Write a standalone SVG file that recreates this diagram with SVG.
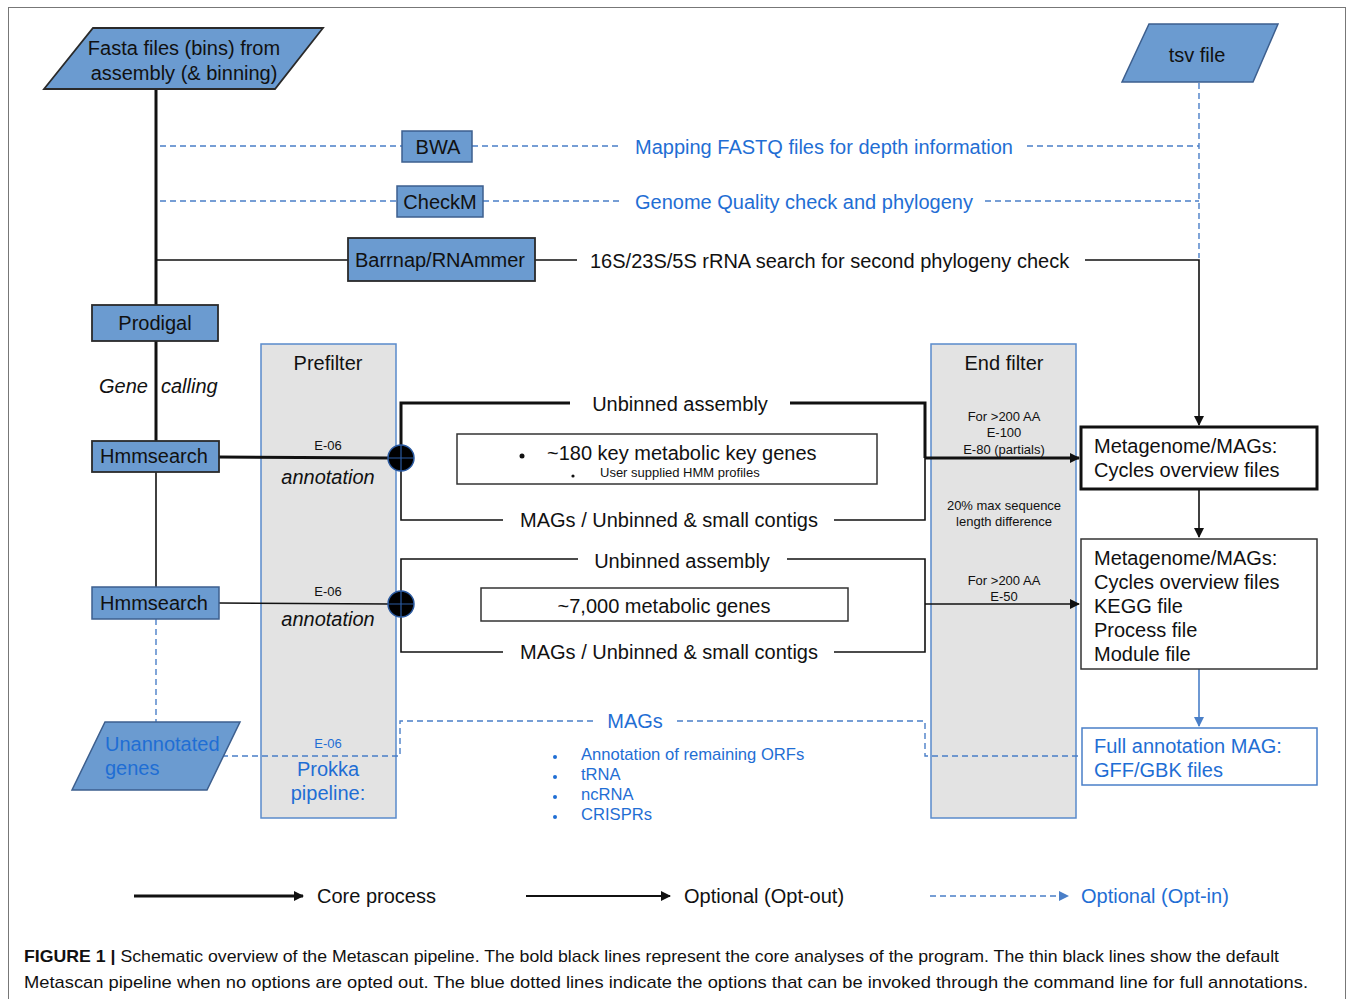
<svg xmlns="http://www.w3.org/2000/svg" width="1354" height="999" viewBox="0 0 1354 999">
<defs>
<style>
text{font-family:"Liberation Sans",Arial,sans-serif;fill:#111}
.t20{font-size:20px}
.t16{font-size:16.6px}
.t13{font-size:13px}
.mid{text-anchor:middle}
.it{font-style:italic}
.blue{fill:#1f6ed4}
.node{fill:#6b9bd0;stroke:#3d5f8e;stroke-width:1.5}
.nodek{fill:#6b9bd0;stroke:#2a2a2a;stroke-width:1.8}
.filt{fill:#e3e3e3;stroke:#5a8bcb;stroke-width:1.5}
.box{fill:#fff;stroke:#333;stroke-width:1.5}
.core{fill:none;stroke:#111;stroke-width:3}
.thin{fill:none;stroke:#111;stroke-width:1.6}
.dash{fill:none;stroke:#4a7fc8;stroke-width:1.4;stroke-dasharray:6 4}
</style>
<marker id="ak" markerWidth="10" markerHeight="10" refX="9" refY="5" orient="auto" markerUnits="userSpaceOnUse"><path d="M0,0 L10,5 L0,10 z" fill="#111"/></marker>
<marker id="ab" markerWidth="10" markerHeight="10" refX="9" refY="5" orient="auto" markerUnits="userSpaceOnUse"><path d="M0,0 L10,5 L0,10 z" fill="#4a7fc8"/></marker>
</defs>
<rect x="0" y="0" width="1354" height="999" fill="#fff"/>
<rect x="8.5" y="7.5" width="1337" height="1000" fill="none" stroke="#777" stroke-width="1"/>

<g id="filters">
<g id="prefilter">
<rect class="filt" x="261" y="344" width="135" height="474"/>
<text class="t20 mid" x="328" y="370">Prefilter</text>
<text class="t13 mid" x="328" y="450">E-06</text>
<text class="t20 mid it" x="328" y="484">annotation</text>
<text class="t13 mid" x="328" y="596">E-06</text>
<text class="t20 mid it" x="328" y="626">annotation</text>
<text class="t13 mid blue" x="328" y="748">E-06</text>
<text class="t20 mid blue" x="328" y="776">Prokka</text>
<text class="t20 mid blue" x="328" y="800">pipeline:</text>
</g>
<g id="endfilter">
<rect class="filt" x="931" y="344" width="145" height="474"/>
<text class="t20 mid" x="1004" y="370">End filter</text>
<text class="t13 mid" x="1004" y="421">For &gt;200 AA</text>
<text class="t13 mid" x="1004" y="437">E-100</text>
<text class="t13 mid" x="1004" y="454">E-80 (partials)</text>
<text class="t13 mid" x="1004" y="510">20% max sequence</text>
<text class="t13 mid" x="1004" y="526">length difference</text>
<text class="t13 mid" x="1004" y="585">For &gt;200 AA</text>
<text class="t13 mid" x="1004" y="601">E-50</text>
</g>
</g>

<g id="connectors">
<path class="core" d="M156,89 V305"/>
<path class="core" d="M156,341 V441"/>
<path class="thin" d="M156,472 V587"/>
<path class="dash" d="M156,619 V722"/>
<path class="dash" d="M160,146 H402 M472,146 H622 M1027,146 H1199"/>
<path class="dash" d="M160,201 H397 M483,201 H622 M985,201 H1199"/>
<path class="dash" d="M1199,83 V258"/>
<path class="thin" d="M156,260 H348 M535,260 H577"/>
<path class="thin" d="M1085,260 H1199 V425" marker-end="url(#ak)"/>
<path class="core" d="M219,457 L390,458"/>
<path class="core" d="M401,458 V403 H570 M790,403 H925 V458"/>
<path class="thin" d="M401,458 V520 H503 M834,520 H925 V458"/>
<path class="core" d="M925,458 H1079" marker-end="url(#ak)"/>
<path class="thin" d="M219,603 L390,604"/>
<path class="thin" d="M401,604 V559 H578 M787,559 H925 V652 H834 M503,652 H401 V604"/>
<path class="thin" d="M925,604 H1079" marker-end="url(#ak)"/>
<path class="thin" d="M1199,489 V537" marker-end="url(#ak)"/>
<path d="M1199,669 V726" fill="none" stroke="#4a7fc8" stroke-width="1.6" marker-end="url(#ab)"/>
<path class="dash" d="M222,756 H400 V721 H597 M677,721 H925 V756 H1081"/>
<g stroke="#2b5aa0">
<circle cx="401" cy="458" r="13" fill="#000" stroke-width="1.5"/>
<path d="M388,458 H414 M401,445 V471" stroke-width="1.2"/>
<circle cx="401" cy="604" r="13" fill="#000" stroke-width="1.5"/>
<path d="M388,604 H414 M401,591 V617" stroke-width="1.2"/>
</g>
</g>

<g id="fasta">
<polygon class="nodek" points="93,28 323,28 275,89 44,89"/>
<text class="t20 mid" x="184" y="55">Fasta files (bins) from</text>
<text class="t20 mid" x="184" y="80">assembly (&amp; binning)</text>
</g>
<g id="tsv">
<polygon class="node" points="1149,24 1278,24 1253,82 1122,82"/>
<text class="t20 mid" x="1197" y="62">tsv file</text>
</g>
<g id="bwa">
<rect class="node" x="402" y="131" width="70" height="31"/>
<text class="t20 mid" x="438" y="154">BWA</text>
<text class="t20 blue" x="635" y="154">Mapping FASTQ files for depth information</text>
</g>
<g id="checkm">
<rect class="node" x="397" y="186" width="86" height="31"/>
<text class="t20 mid" x="440" y="209">CheckM</text>
<text class="t20 blue" x="635" y="209">Genome Quality check and phylogeny</text>
</g>
<g id="barrnap">
<rect class="nodek" x="348" y="238" width="187" height="43"/>
<text class="t20 mid" x="440" y="267">Barrnap/RNAmmer</text>
<text class="t20" x="590" y="268">16S/23S/5S rRNA search for second phylogeny check</text>
</g>
<g id="prodigal">
<rect class="nodek" x="92" y="305" width="126" height="36"/>
<text class="t20 mid" x="155" y="330">Prodigal</text>
<text class="t20 it" x="148" y="393" text-anchor="end">Gene</text>
<text class="t20 it" x="161" y="393">calling</text>
</g>
<g id="hmmsearch1">
<rect class="nodek" x="92" y="441" width="127" height="31"/>
<text class="t20 mid" x="154" y="463">Hmmsearch</text>
</g>
<g id="hmmsearch2">
<rect class="node" x="92" y="587" width="127" height="32"/>
<text class="t20 mid" x="154" y="610">Hmmsearch</text>
</g>
<g id="unannotated">
<polygon class="node" points="105,722 240,722 207,790 72,790"/>
<text class="t20 blue" x="105" y="751">Unannotated</text>
<text class="t20 blue" x="105" y="775">genes</text>
</g>
<g id="block1">
<text class="t20 mid" x="680" y="411">Unbinned assembly</text>
<rect class="box" x="457" y="434" width="420" height="50"/>
<circle cx="522" cy="456" r="2.5" fill="#111"/>
<text class="t20" x="547" y="460">~180 key metabolic key genes</text>
<circle cx="573" cy="476" r="1.6" fill="#111"/>
<text class="t13" x="600" y="477">User supplied HMM profiles</text>
<text class="t20 mid" x="669" y="527">MAGs / Unbinned &amp; small contigs</text>
</g>
<g id="block2">
<text class="t20 mid" x="682" y="568">Unbinned assembly</text>
<rect class="box" x="481" y="588" width="367" height="33"/>
<text class="t20 mid" x="664" y="613">~7,000 metabolic genes</text>
<text class="t20 mid" x="669" y="659">MAGs / Unbinned &amp; small contigs</text>
</g>
<g id="prokka-out">
<text class="t20 mid blue" x="635" y="728">MAGs</text>
<g fill="#1f6ed4">
<circle cx="555" cy="757" r="2"/><circle cx="555" cy="777" r="2"/><circle cx="555" cy="797" r="2"/><circle cx="555" cy="817" r="2"/>
</g>
<text class="t16 blue" x="581" y="760">Annotation of remaining ORFs</text>
<text class="t16 blue" x="581" y="780">tRNA</text>
<text class="t16 blue" x="581" y="800">ncRNA</text>
<text class="t16 blue" x="581" y="820">CRISPRs</text>
</g>
<g id="cycles">
<rect x="1081" y="427" width="236" height="62" fill="#fff" stroke="#111" stroke-width="3"/>
<text class="t20" x="1094" y="453">Metagenome/MAGs:</text>
<text class="t20" x="1094" y="477">Cycles overview files</text>
</g>
<g id="outputs">
<rect class="box" x="1081" y="539" width="236" height="130"/>
<text class="t20" x="1094" y="565">Metagenome/MAGs:</text>
<text class="t20" x="1094" y="589">Cycles overview files</text>
<text class="t20" x="1094" y="613">KEGG file</text>
<text class="t20" x="1094" y="637">Process file</text>
<text class="t20" x="1094" y="661">Module file</text>
</g>
<g id="fullannot">
<rect x="1082" y="728" width="235" height="57" fill="#fff" stroke="#4a7fc8" stroke-width="1.5"/>
<text class="t20 blue" x="1094" y="753">Full annotation MAG:</text>
<text class="t20 blue" x="1094" y="777">GFF/GBK files</text>
</g>
<g id="legend">
<path d="M134,896 H303" stroke="#111" stroke-width="3" marker-end="url(#ak)"/>
<text class="t20" x="317" y="903">Core process</text>
<path d="M526,896 H670" stroke="#111" stroke-width="1.8" marker-end="url(#ak)"/>
<text class="t20" x="684" y="903">Optional (Opt-out)</text>
<path class="dash" d="M930,896 H1068" marker-end="url(#ab)"/>
<text class="t20 blue" x="1081" y="903">Optional (Opt-in)</text>
</g>
<g id="caption">
<text x="24" y="962" style="font-size:17px" textLength="1255" lengthAdjust="spacingAndGlyphs"><tspan font-weight="bold">FIGURE 1 | </tspan>Schematic overview of the Metascan pipeline. The bold black lines represent the core analyses of the program. The thin black lines show the default</text>
<text x="24" y="988" style="font-size:17px" textLength="1284" lengthAdjust="spacingAndGlyphs">Metascan pipeline when no options are opted out. The blue dotted lines indicate the options that can be invoked through the command line for full annotations.</text>
</g>
</svg>
